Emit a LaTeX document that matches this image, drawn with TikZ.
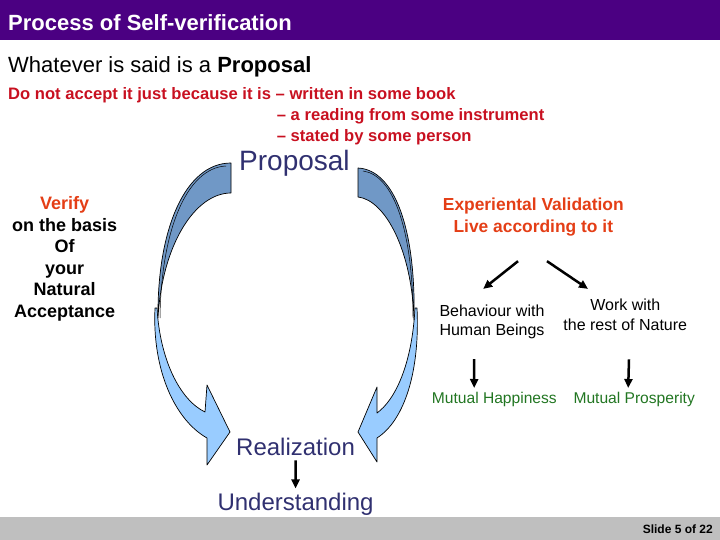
\documentclass[tikz,border=0pt]{standalone}
\usepackage{fontspec}
\setmainfont{Liberation Sans}
\usepackage{xcolor}
\usetikzlibrary{arrows.meta,calc}
\definecolor{svIndigo}{RGB}{75,0,130}
\definecolor{svRed}{RGB}{200,16,32}
\definecolor{svOrange}{RGB}{228,62,22}
\definecolor{svNavy}{RGB}{48,48,112}
\definecolor{svGreen}{RGB}{34,118,34}
\definecolor{svSteel}{RGB}{112,152,198}
\definecolor{svSky}{RGB}{153,204,255}
\definecolor{svGray}{RGB}{191,191,191}
\newcommand{\svsize}[2]{\fontsize{#1}{#2}\selectfont}

\begin{document}
\begin{tikzpicture}[x=1pt,y=-1pt,
    txt/.style={inner sep=0pt, anchor=base west},
    flowarrow/.style={line width=2.5pt, -{Triangle[length=9pt,width=8pt]}},
    ribbon/.style={draw=black, line width=0.7pt, line join=round}]
    \useasboundingbox (0,0) rectangle (720,540);

    % title bar and footer
    \fill[svIndigo] (0,0) rectangle (720,40);
    \fill[svGray] (0,517) rectangle (720,540);
    \node[txt, text=white, font=\bfseries\svsize{22}{26}] (title) at (8,31) {Process of Self-verification};
    \node[anchor=base east, inner sep=0pt, font=\bfseries\svsize{12}{14}] (slideno) at (713,533) {Slide 5 of 22};

    % heading lines
    \node[txt, font=\svsize{22}{26}] (whatever) at (8,73) {Whatever is said is a \textbf{Proposal}};
    \node[txt, text=svRed, font=\bfseries\svsize{16.6}{20}] (dontaccept) at (8,99.5) {Do not accept it just because it is – written in some book};
    \node[txt, text=svRed, font=\bfseries\svsize{16.6}{20}] (reading) at (276.7,121) {– a reading from some instrument};
    \node[txt, text=svRed, font=\bfseries\svsize{16.6}{20}] (stated) at (276.7,142) {– stated by some person};

    % left ribbon: light face, then dark face
    \draw[ribbon, fill=svSky] (157,308) .. controls (160,360) and (180,400) .. (205,412)
        -- (207,385) -- (230,432) -- (207,465) -- (207,438)
        .. controls (175,420) and (152,370) .. (155,308) -- cycle;
    \draw[ribbon, fill=svSteel] (231,163) -- (231,193)
        .. controls (195,193) and (162,245) .. (158,318)
        .. controls (157,230) and (185,163) .. (231,163) -- cycle;
    \draw[line width=0.5pt] (226,166) .. controls (186,168) and (161,232) .. (160,318);

    % right ribbon: light face, then dark face
    \draw[ribbon, fill=svSky] (415,308) .. controls (412,365) and (395,400) .. (377,413)
        -- (377,387) -- (358,432) -- (377,462) -- (377,438)
        .. controls (405,420) and (420,370) .. (417,308) -- cycle;
    \draw[ribbon, fill=svSteel] (358,168) -- (358,197)
        .. controls (385,200) and (412,250) .. (414,320)
        .. controls (416,230) and (395,170) .. (358,168) -- cycle;
    \draw[line width=0.5pt] (363,171) .. controls (394,175) and (413,232) .. (413,318);

    % cycle labels
    \node[txt, text=svNavy, font=\svsize{28}{32}] (proposal) at (239,170.7) {Proposal};
    \node[txt, text=svNavy, font=\svsize{24}{28}] (realization) at (236,455) {Realization};
    \node[txt, text=svNavy, font=\svsize{24}{28}] (understanding) at (217.3,510) {Understanding};
    \draw[flowarrow, shorten <=5pt, shorten >=4pt] (realization) -- (understanding);

    % left side text (base = last line)
    \node[anchor=base, inner sep=0pt, align=center, font=\bfseries\svsize{18}{21.6}] (verify) at (64.7,317.5)
        {\textcolor{svOrange}{Verify}\\on the basis\\Of\\your\\Natural\\Acceptance};

    % right side: validation tree
    \node[anchor=base, inner sep=0pt, align=center, text=svOrange, font=\bfseries\svsize{17.4}{22}] (expval) at (533.3,232.7)
        {Experiental Validation\\Live according to it};
    \node[anchor=base west, inner sep=0pt, align=left, font=\svsize{16}{18.3}] (behaviour) at (439.3,335)
        {Behaviour with\\Human Beings};
    \node[anchor=base, inner sep=0pt, align=center, font=\svsize{16}{19.3}] (workwith) at (625.3,330)
        {Work with\\the rest of Nature};
    \node[txt, text=svGreen, font=\svsize{15.6}{18}] (happiness) at (431.7,403.3) {Mutual Happiness};
    \node[txt, text=svGreen, font=\svsize{15.6}{18}] (prosperity) at (573.3,403.3) {Mutual Prosperity};

    \draw[flowarrow] ([xshift=-15.3pt,yshift=-24.6pt]expval.south) -- ([xshift=-8.8pt,yshift=16pt]behaviour.north);
    \draw[flowarrow] ([xshift=13.7pt,yshift=-24.6pt]expval.south) -- ([xshift=-37.3pt,yshift=10pt]workwith.north);
    \draw[flowarrow] ([xshift=-17.8pt,yshift=-20.6pt]behaviour.south) -- ([xshift=-20.2pt,yshift=15.3pt]happiness.base);
    \draw[flowarrow] ([xshift=3.7pt,yshift=-29pt]workwith.south) -- ([xshift=-6pt,yshift=15.3pt]prosperity.base);
\end{tikzpicture}
\end{document}
